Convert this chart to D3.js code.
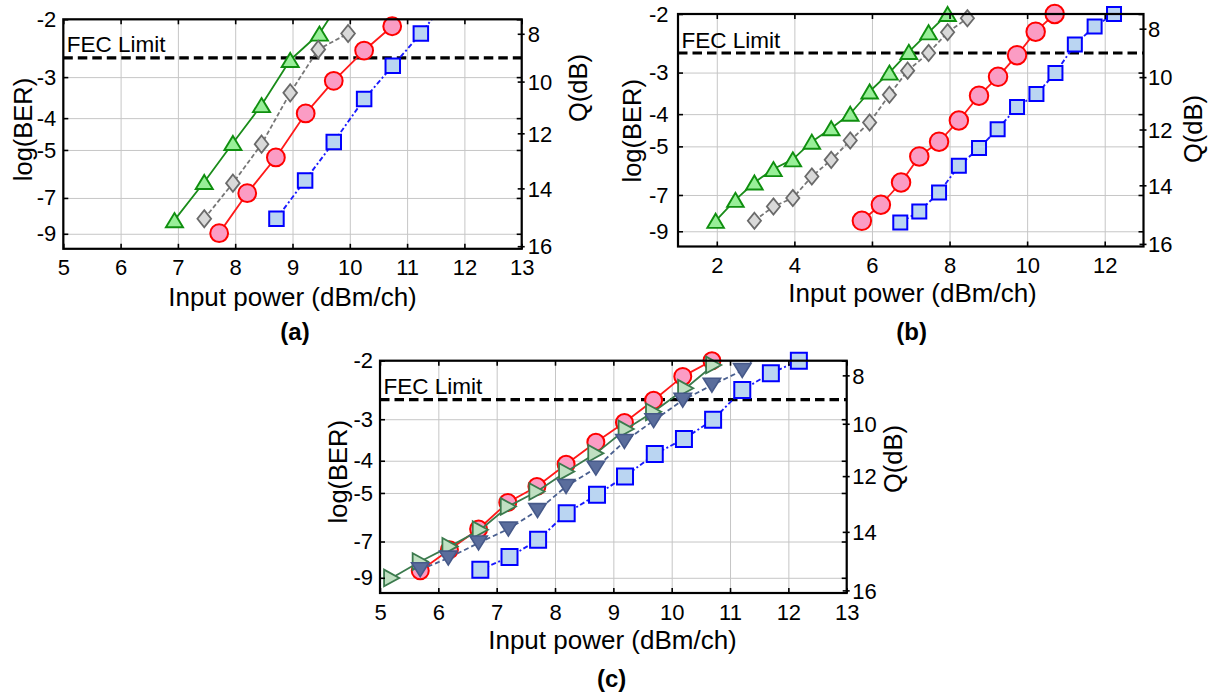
<!DOCTYPE html>
<html>
<head>
<meta charset="utf-8">
<script src="https://cdn.jsdelivr.net/npm/d3@7"></script>
<style>
  html, body { margin: 0; padding: 0; background: #fff; }
  svg { display: block; font-family: "Liberation Sans", Arial, Helvetica, sans-serif; }
</style>
</head>
<body>
<svg id="fig" width="1213" height="693"></svg>
<script>
// ---------------- data ----------------
// x: input power (dBm/ch), y: log10(BER)

// panel (a)
const aTriPower = [6.94, 7.46, 7.96, 8.46, 8.96, 9.47, 9.97];
const aTriBer   = [-8.18, -6.26, -4.76, -3.65, -2.66, -2.21, -1.62];
const aDiaPower = [7.46, 7.96, 8.46, 8.96, 9.45, 9.97];
const aDiaBer   = [-8.10, -6.31, -4.80, -3.35, -2.47, -2.21];
const aCirPower = [7.72, 8.21, 8.71, 9.23, 9.72, 10.25, 10.74];
const aCirBer   = [-8.96, -6.77, -5.27, -3.87, -3.08, -2.49, -2.10];
const aSqPower  = [8.72, 9.22, 9.72, 10.25, 10.75, 11.24, 11.74];
const aSqBer    = [-8.10, -6.19, -4.73, -3.50, -2.77, -2.21, -1.70];

// panel (b)
const bTriPower = [1.97, 2.48, 2.97, 3.46, 3.96, 4.45, 4.95, 5.44, 5.94, 6.45, 6.95, 7.46, 7.95];
const bTriBer   = [-8.37, -7.24, -6.42, -5.85, -5.47, -4.84, -4.41, -3.99, -3.42, -3.00, -2.60, -2.27, -2.00];
const bDiaPower = [2.97, 3.46, 3.96, 4.45, 4.95, 5.44, 5.94, 6.45, 6.92, 7.46, 7.95, 8.46];
const bDiaBer   = [-8.37, -7.58, -7.15, -6.16, -5.49, -4.80, -4.24, -3.50, -2.96, -2.62, -2.27, -2.06];
const bCirPower = [5.74, 6.23, 6.75, 7.22, 7.73, 8.24, 8.76, 9.25, 9.74, 10.22, 10.71];
const bCirBer   = [-8.37, -7.49, -6.42, -5.36, -4.84, -4.18, -3.52, -3.09, -2.66, -2.26, -2.00];
const bSqPower  = [6.73, 7.22, 7.73, 8.24, 8.76, 9.24, 9.74, 10.24, 10.73, 11.23, 11.74, 12.24];
const bSqBer    = [-8.47, -7.85, -6.88, -5.72, -5.06, -4.44, -3.81, -3.48, -3.01, -2.47, -2.18, -2.00];

// panel (c)
const cCirPower = [5.69, 6.19, 6.69, 7.19, 7.69, 8.19, 8.70, 9.19, 9.69, 10.19, 10.69];
const cCirBer   = [-8.57, -7.41, -6.42, -5.34, -4.78, -4.10, -3.52, -3.07, -2.63, -2.23, -2.00];
const cRtPower  = [5.20, 5.69, 6.20, 6.72, 7.20, 7.69, 8.20, 8.70, 9.22, 9.69, 10.24, 10.72];
const cRtBer    = [-9.01, -8.04, -7.24, -6.45, -5.49, -4.95, -4.31, -3.80, -3.21, -2.85, -2.42, -2.06];
const cDnPower  = [5.69, 6.17, 6.69, 7.20, 7.70, 8.19, 8.70, 9.19, 9.69, 10.19, 10.69, 11.21, 11.71];
const cDnBer    = [-8.51, -7.85, -7.07, -6.42, -5.65, -4.78, -4.21, -3.50, -3.03, -2.63, -2.37, -2.14, -1.75];
const cSqPower  = [6.72, 7.22, 7.71, 8.20, 8.72, 9.20, 9.71, 10.21, 10.71, 11.21, 11.70, 12.18];
const cSqBer    = [-8.51, -7.79, -6.92, -5.75, -5.06, -4.46, -3.82, -3.44, -3.01, -2.45, -2.18, -2.00];

// axis ticks and labels
const xTicks513 = [5, 6, 7, 8, 9, 10, 11, 12, 13];
const xTicks113 = [2, 4, 6, 8, 10, 12];
const berTicks  = [-2, -3, -4, -5, -7, -9];   // log10(BER)
const qTicks    = [8, 10, 12, 14, 16];        // Q (dB)
const fecLogBer = -2.62;                      // FEC threshold, log10(BER)
const fecText   = "FEC Limit";
const xTitle    = "Input power (dBm/ch)";
const yTitle    = "log(BER)";
const qTitle    = "Q(dB)";

// ---------------- styles ----------------
const FONT = '"Liberation Sans", Arial, Helvetica, sans-serif';
const st = {
  greenUp:  { shape: "up",      fill: "#98ef98", stroke: "#0f8f0f", sw: 1.9, line: "#1a8c1a", lw: 1.8, dash: null },
  greyDia:  { shape: "diamond", fill: "#d9d9d9", stroke: "#6a6a6a", sw: 1.8, line: "#777777", lw: 1.8, dash: "4.5,2.5" },
  redCir:   { shape: "circle",  fill: "#fb9cc4", stroke: "#ff0000", sw: 2.0, line: "#ff1a1a", lw: 1.8, dash: null },
  blueSq:   { shape: "square",  fill: "#bad5f2", stroke: "#0000ff", sw: 2.0, line: "#1a1aff", lw: 1.9, dash: "5,2.5,2,2.5" },
  greenRt:  { shape: "right",   fill: "#c0e0c2", stroke: "#3b7a4d", sw: 1.8, line: "#3b7a4d", lw: 1.8, dash: null },
  navyDn:   { shape: "down",    fill: "#5a6d9c", stroke: "#465989", sw: 1.6, line: "#4a6090", lw: 1.8, dash: "5,3" }
};

const panels = [
  {
    box: { l: 63.3, r: 521.7, t: 19.3, b: 248.8 }, xDomain: [5, 13], xTicks: xTicks513,
    leftPad: 7, rightPad: 6,
    yTitlePos: [23.5, 129.5], qTitlePos: [578, 88], xTitlePos: [292.5, 296.5],
    tag: "(a)", tagPos: [295, 332],
    series: [
      { p: aTriPower, v: aTriBer, s: st.greenUp, w: 19, h: 16 },
      { p: aDiaPower, v: aDiaBer, s: st.greyDia, w: 15.5, h: 19 },
      { p: aCirPower, v: aCirBer, s: st.redCir,  w: 19.8, h: 19.8 },
      { p: aSqPower,  v: aSqBer,  s: st.blueSq,  w: 16.5, h: 16.5 }
    ]
  },
  {
    box: { l: 678, r: 1143.5, t: 14, b: 246.5 }, xDomain: [1, 13], xTicks: xTicks113,
    leftPad: 9.5, rightPad: 4.5,
    yTitlePos: [631.7, 130.8], qTitlePos: [1193.3, 129], xTitlePos: [912.5, 293],
    tag: "(b)", tagPos: [911.7, 331.7],
    series: [
      { p: bTriPower, v: bTriBer, s: st.greenUp, w: 18.5, h: 16 },
      { p: bDiaPower, v: bDiaBer, s: st.greyDia, w: 15, h: 18 },
      { p: bCirPower, v: bCirBer, s: st.redCir,  w: 20.5, h: 20.5 },
      { p: bSqPower,  v: bSqBer,  s: st.blueSq,  w: 16, h: 16 }
    ]
  },
  {
    box: { l: 380, r: 846.7, t: 360.7, b: 593 }, xDomain: [5, 13], xTicks: xTicks513,
    leftPad: 7, rightPad: 5.5,
    yTitlePos: [338.3, 471.7], qTitlePos: [893, 459], xTitlePos: [612.5, 640],
    tag: "(c)", tagPos: [611.7, 678.3],
    series: [
      { p: cSqPower,  v: cSqBer,  s: st.blueSq,  w: 18, h: 18 },
      { p: cCirPower, v: cCirBer, s: st.redCir,  w: 19, h: 19 },
      { p: cRtPower,  v: cRtBer,  s: st.greenRt, w: 17, h: 18.5 },
      { p: cDnPower,  v: cDnBer,  s: st.navyDn,  w: 19, h: 15.5 }
    ]
  }
];

// ---------------- helpers ----------------
// complementary error function (Chebyshev fit, rel. error < 1.2e-7)
function erfc(x) {
  const z = Math.abs(x), t = 1 / (1 + 0.5 * z);
  const r = t * Math.exp(-z * z - 1.26551223 + t * (1.00002368 + t * (0.37409196 + t * (0.09678418 +
    t * (-0.18628806 + t * (0.27886807 + t * (-1.13520398 + t * (1.48851587 + t * (-0.82215223 + t * 0.17087277)))))))));
  return x >= 0 ? r : 2 - r;
}
// Q factor in dB -> log10(BER)
const qToLogBer = q => Math.log10(0.5 * erfc(Math.pow(10, q / 20) / Math.SQRT2));

function markerPath(shape, w, h) {
  const a = w / 2, c = h / 2;
  switch (shape) {
    case "up":      return `M0,${-c}L${a},${c}L${-a},${c}Z`;
    case "down":    return `M0,${c}L${a},${-c}L${-a},${-c}Z`;
    case "right":   return `M${a},0L${-a},${-c}L${-a},${c}Z`;
    case "diamond": return `M0,${-c}L${a},0L0,${c}L${-a},0Z`;
    case "square":  return `M${-a},${-c}H${a}V${c}H${-a}Z`;
    default:        return `M${a},0A${a},${a} 0 1,1 ${-a},0A${a},${a} 0 1,1 ${a},0Z`;
  }
}

const svg = d3.select("#fig");
const defs = svg.append("defs");

panels.forEach((P, i) => {
  const { l, r, t, b } = P.box;
  const x = d3.scaleLinear().domain(P.xDomain).range([l, r]);
  // vertical axis: log10(-log10(BER)) spacing, -2 at top, -10 at bottom
  const yNeg = d3.scaleLog().domain([2, 10]).range([t, b]);
  const y = v => yNeg(-v);

  const g = svg.append("g");
  const clipId = "plotclip" + i;
  defs.append("clipPath").attr("id", clipId)
    .append("rect").attr("x", l).attr("y", t).attr("width", r - l).attr("height", b - t);

  // grid
  g.append("g").attr("transform", `translate(0,${b})`)
    .call(d3.axisBottom(x).tickValues(P.xTicks).tickSize(-(b - t)).tickFormat(""))
    .call(s => s.select(".domain").remove())
    .call(s => s.selectAll("line").attr("stroke", "#c6c6c6").attr("stroke-width", 1));
  g.append("g").attr("transform", `translate(${l},0)`)
    .call(d3.axisLeft(yNeg).tickValues(berTicks.map(v => -v)).tickSize(-(r - l)).tickFormat(""))
    .call(s => s.select(".domain").remove())
    .call(s => s.selectAll("line").attr("stroke", "#c6c6c6").attr("stroke-width", 1));

  // FEC threshold
  const fy = y(fecLogBer);
  g.append("line").attr("x1", l).attr("x2", r).attr("y1", fy).attr("y2", fy)
    .attr("stroke", "#000").attr("stroke-width", 3.2).attr("stroke-dasharray", "9.5,5");
  g.append("text").attr("x", l + 3.5).attr("y", fy - 5.5)
    .attr("font-family", FONT).attr("font-size", 22.5).attr("fill", "#000").text(fecText);

  // series: line clipped to the axes, markers shown when their point lies inside
  P.series.forEach(S => {
    const pts = S.p.map((p, k) => ({ p, v: S.v[k] }));
    const line = d3.line().x(d => x(d.p)).y(d => y(d.v));
    g.append("path").datum(pts)
      .attr("clip-path", `url(#${clipId})`)
      .attr("d", line)
      .attr("fill", "none")
      .attr("stroke", S.s.line)
      .attr("stroke-width", S.s.lw)
      .attr("stroke-dasharray", S.s.dash)
      .attr("stroke-linejoin", "round");
    const inside = pts.filter(d => -d.v >= 1.999 && -d.v <= 10 &&
      d.p >= P.xDomain[0] && d.p <= P.xDomain[1]);
    g.append("g").selectAll("path").data(inside).join("path")
      .attr("transform", d => `translate(${x(d.p)},${y(d.v)})`)
      .attr("d", markerPath(S.s.shape, S.w - S.s.sw, S.h - S.s.sw))
      .attr("fill", S.s.fill)
      .attr("stroke", S.s.stroke)
      .attr("stroke-width", S.s.sw)
      .attr("stroke-linejoin", "miter");
  });

  const styleAxis = s => {
    s.select(".domain").remove();
    s.selectAll("line").attr("stroke", "#000").attr("stroke-width", 1.6);
    s.selectAll("text").attr("font-family", FONT).attr("font-size", 22).attr("fill", "#000");
  };

  // bottom axis with labels, top axis with ticks only (ticks point inward)
  g.append("g").attr("transform", `translate(0,${b})`)
    .call(d3.axisBottom(x).tickValues(P.xTicks).tickSizeInner(-5).tickSizeOuter(0).tickPadding(11))
    .call(styleAxis);
  g.append("g").attr("transform", `translate(0,${t})`)
    .call(d3.axisTop(x).tickValues(P.xTicks).tickSizeInner(-5).tickSizeOuter(0).tickFormat(""))
    .call(styleAxis);

  // left axis log(BER)
  g.append("g").attr("transform", `translate(${l},0)`)
    .call(d3.axisLeft(yNeg).tickValues(berTicks.map(v => -v)).tickSizeInner(-5).tickSizeOuter(0)
      .tickPadding(P.leftPad).tickFormat(d => "-" + d))
    .call(styleAxis);
  // mirrored ticks on the right edge
  g.append("g").attr("transform", `translate(${r},0)`)
    .call(d3.axisRight(yNeg).tickValues(berTicks.map(v => -v)).tickSizeInner(-5).tickSizeOuter(0).tickFormat(""))
    .call(styleAxis);

  // right axis Q(dB)
  const qg = g.append("g");
  qg.selectAll("line").data(qTicks).join("line")
    .attr("x1", r - 4).attr("x2", r + 3)
    .attr("y1", q => y(qToLogBer(q))).attr("y2", q => y(qToLogBer(q)))
    .attr("stroke", "#000").attr("stroke-width", 1.6);
  qg.selectAll("text").data(qTicks).join("text")
    .attr("x", r + P.rightPad)
    .attr("y", q => y(qToLogBer(q)))
    .attr("dy", "0.35em")
    .attr("font-family", FONT).attr("font-size", 22).attr("fill", "#000")
    .text(q => q);

  // box
  g.append("rect").attr("x", l).attr("y", t).attr("width", r - l).attr("height", b - t)
    .attr("fill", "none").attr("stroke", "#000").attr("stroke-width", 2.2);

  // titles
  g.append("text")
    .attr("transform", `translate(${P.yTitlePos[0]},${P.yTitlePos[1]}) rotate(-90)`)
    .attr("text-anchor", "middle").attr("dy", "0.35em")
    .attr("font-family", FONT).attr("font-size", 25.5).text(yTitle);
  g.append("text")
    .attr("transform", `translate(${P.qTitlePos[0]},${P.qTitlePos[1]}) rotate(-90)`)
    .attr("text-anchor", "middle").attr("dy", "0.35em")
    .attr("font-family", FONT).attr("font-size", 25.5).text(qTitle);
  g.append("text")
    .attr("x", P.xTitlePos[0]).attr("y", P.xTitlePos[1])
    .attr("text-anchor", "middle").attr("dy", "0.35em")
    .attr("font-family", FONT).attr("font-size", 26).text(xTitle);
  g.append("text")
    .attr("x", P.tagPos[0]).attr("y", P.tagPos[1])
    .attr("text-anchor", "middle").attr("dy", "0.35em")
    .attr("font-family", FONT).attr("font-size", 24).attr("font-weight", "bold").text(P.tag);
});
</script>
</body>
</html>
